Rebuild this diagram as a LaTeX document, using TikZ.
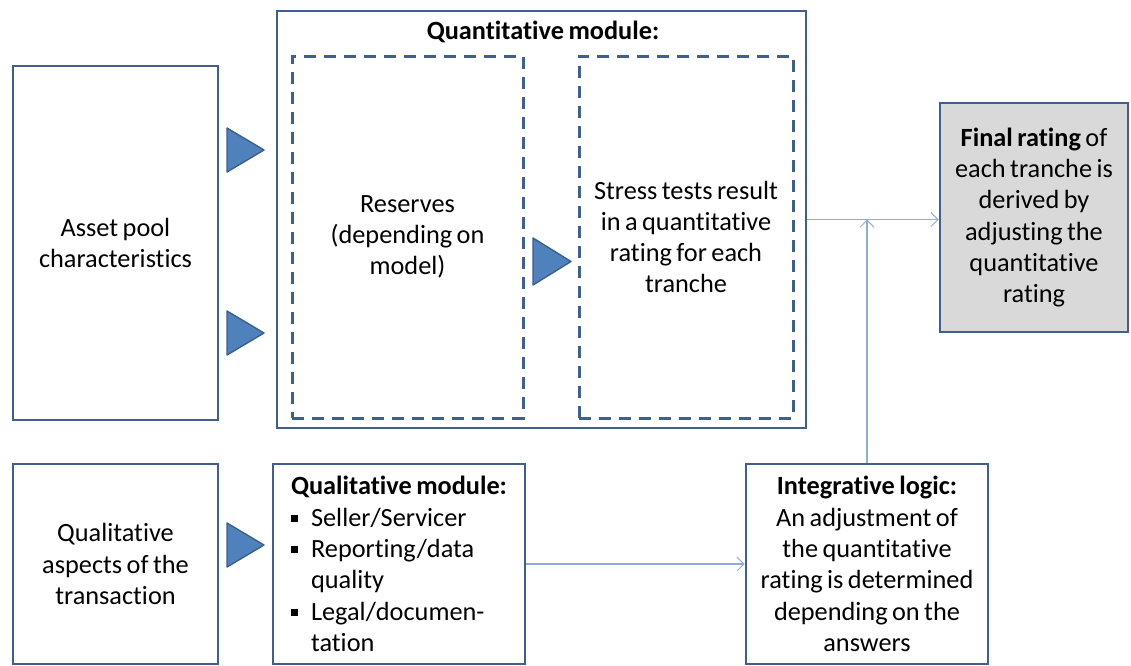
\documentclass[tikz,border=0pt]{standalone}
\usepackage{fontspec}
\setmainfont{Carlito}[Ligatures=NoCommon, WordSpace=0.75]
\usetikzlibrary{arrows.meta}
\definecolor{boxline}{HTML}{3F5F8E}
\definecolor{trifill}{HTML}{4F81BD}
\definecolor{trline}{HTML}{3A5F8E}
\definecolor{linkline}{HTML}{8FADD6}
\definecolor{finalfill}{HTML}{D9D9D9}
\newcommand{\bulsq}{\makebox[20pt][l]{\raisebox{4pt}{\rule{7pt}{7pt}}}}
\tikzset{
  basebox/.style={draw=boxline, line width=2.7pt, fill=white, inner sep=0pt,
    align=center, font=\fontsize{26.3}{31.3}\selectfont},
  dashbox/.style={draw=boxline, line width=3pt, dash pattern=on 12pt off 8pt,
    inner sep=0pt, align=center, font=\fontsize{26.3}{31.3}\selectfont},
  flowtri/.style={fill=trifill, draw=trline, line width=1.4pt, line join=round},
  link/.style={draw=linkline, line width=1.2pt, -{Straight Barb[length=7pt,width=14pt,line width=1pt]}},
  titletext/.style={font=\fontsize{26.3}{31.3}\selectfont\bfseries, inner sep=0pt}
}
\begin{document}
\begin{tikzpicture}[x=1pt,y=-1pt]
\useasboundingbox (0,0) rectangle (1131,665);

% left column inputs
\node[basebox, minimum width=205pt, minimum height=354pt] (asset) at (115.5,243)
  {Asset pool\\characteristics};
\node[basebox, minimum width=205pt, minimum height=200pt] (qasp) at (115.5,564)
  {Qualitative\\aspects of the\\transaction};

% quantitative module with its two stages
\node[basebox, minimum width=529pt, minimum height=417pt] (quant) at (541.5,219.5) {};
\node[titletext] (qtitle) at (543,32) {Quantitative module:};
\node[dashbox, minimum width=231pt, minimum height=362pt] (res) at (407.5,237)
  {Reserves\\(depending on\\model)};
\node[dashbox, minimum width=214pt, minimum height=362pt] (stress) at (686,237)
  {Stress tests result\\in a quantitative\\rating for each\\tranche};

% result
\node[basebox, fill=finalfill, minimum width=188pt, minimum height=229pt] (final) at (1034,217.5)
  {\textbf{Final rating} of\\each tranche is\\derived by\\adjusting the\\quantitative\\rating};

% qualitative module and integrative logic
\node[basebox, minimum width=252pt, minimum height=200pt, align=left] (qmod) at (399,564)
  {\textbf{Qualitative module:}\\
   \bulsq Seller/Servicer\\
   \bulsq Reporting/data\\
   \hspace*{20pt}quality\\
   \bulsq Legal/documen-\\
   \hspace*{20pt}tation};
\node[basebox, minimum width=242pt, minimum height=200pt] (integ) at (867,564)
  {\textbf{Integrative logic:}\\An adjustment of\\the quantitative\\rating is determined\\depending on the\\answers};

% flow triangles
\draw[flowtri] (227,128) -- (264,150) -- (227,172) -- cycle;
\draw[flowtri] (227,311) -- (264,333) -- (227,355) -- cycle;
\draw[flowtri] (533,238) -- (571,261.5) -- (533,285) -- cycle;
\draw[flowtri] (227,523) -- (264,545) -- (227,567) -- cycle;

% connectors
\draw[link] (quant.east) -- (quant.east -| final.west);
\draw[link] (integ.north) -- (integ.north |- quant.east);
\draw[link] (qmod.east) -- (integ.west);
\end{tikzpicture}
\end{document}
